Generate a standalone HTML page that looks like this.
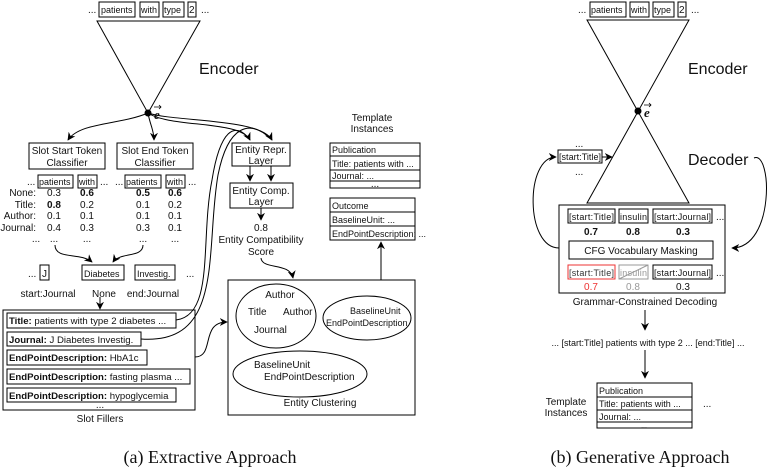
<!DOCTYPE html>
<html><head><meta charset="utf-8"><style>
body{margin:0;background:#fff}
svg{display:block}
text{font-family:"Liberation Sans",sans-serif;font-size:10px;fill:#111}
.t{font-size:9px}
.f{font-size:9.6px}
.b{font-weight:bold}
.s{font-family:"Liberation Serif",serif;font-size:18px}
</style></head><body>
<svg width="778" height="471" viewBox="0 0 778 471" xmlns="http://www.w3.org/2000/svg">
<defs><marker id="a" viewBox="0 0 10 10" refX="9" refY="5" markerWidth="8" markerHeight="8" orient="auto"><path d="M0,0L10,5L0,10L3,5z" fill="#000"/></marker></defs>
<g fill="none" stroke="#000" stroke-width="1">
<rect x="99" y="2" width="36" height="15"/><rect x="140" y="2" width="19" height="15"/><rect x="163" y="2" width="21" height="15"/><rect x="188" y="2" width="8" height="15"/>
<polygon points="97,21 200,21 148,113"/>
<path d="M148,113 C120,125 80,122 68,140" marker-end="url(#a)"/>
<path d="M148,113 C150,125 154,130 154,140" marker-end="url(#a)"/>
<path d="M148,113 C170,128 240,120 250,140" marker-end="url(#a)"/>
<path d="M148,113 C175,122 260,118 272,140" marker-end="url(#a)"/>
<rect x="29" y="143" width="76" height="26"/><rect x="117" y="143" width="76" height="26"/>
<rect x="38" y="175" width="35" height="13"/><rect x="78" y="175" width="19" height="13"/>
<rect x="125" y="175" width="36" height="13"/><rect x="166" y="175" width="19" height="13"/>
<path d="M55,245 C55,260 80,252 92,262" marker-end="url(#a)"/>
<path d="M143,245 C143,258 120,252 113,262" marker-end="url(#a)"/>
<rect x="40" y="265" width="9" height="15"/><rect x="82" y="265" width="42" height="15"/><rect x="135" y="265" width="40" height="15"/>
<path d="M100,297 L100,309" marker-end="url(#a)"/>
<rect x="3" y="310" width="192" height="100"/>
<rect x="7" y="313" width="169" height="15"/><rect x="7" y="332" width="134" height="14"/><rect x="7" y="350" width="140" height="15"/><rect x="7" y="369" width="183" height="15"/><rect x="7" y="388" width="169" height="14"/>
<path d="M176,320 C215,315 200,240 212,180 C220,130 235,120 250,140"/>
<path d="M141,339 C225,345 205,250 218,175 C228,125 250,118 272,140"/>
<rect x="232" y="143" width="58" height="23"/><rect x="230" y="183" width="63" height="25"/>
<path d="M250,166 L250,181" marker-end="url(#a)"/><path d="M271,166 L271,181" marker-end="url(#a)"/>
<path d="M261,208 L261,220" marker-end="url(#a)"/>
<path d="M261,258 C262,270 290,262 293,278" marker-end="url(#a)"/>
<path d="M195,357 C215,357 200,322 227,322" marker-end="url(#a)"/>
<rect x="228" y="280" width="187" height="135"/>
<ellipse cx="276" cy="316" rx="40" ry="32"/><ellipse cx="367" cy="318" rx="44" ry="22"/><ellipse cx="300" cy="374" rx="67" ry="23"/>
<path d="M381,280 L381,242" marker-end="url(#a)"/>
<rect x="330" y="143" width="90" height="45"/><path d="M330,156H420M330,170H420M330,181H420"/>
<rect x="330" y="198" width="85" height="42"/><path d="M330,212H415M330,226H415"/>
<path d="M154,107 L161,107 M159,105 L161,107 L159,109" stroke-width="0.8"/>
<path d="M644,105 L651,105 M649,103 L651,105 L649,107" stroke-width="0.8"/>

<rect x="590" y="2" width="36" height="15"/><rect x="630" y="2" width="19" height="15"/><rect x="653" y="2" width="21" height="15"/><rect x="678" y="2" width="8" height="15"/>
<path d="M587,20 L689,20 L587,203 L689,203 Z"/>
<rect x="558" y="150" width="44" height="13"/>
<path d="M602,157 L612,157" marker-end="url(#a)"/>
<rect x="559" y="205" width="166" height="88"/>
<rect x="568" y="209" width="47" height="14"/><rect x="619" y="209" width="29" height="14"/><rect x="653" y="209" width="59" height="14"/>
<rect x="569" y="241" width="144" height="18"/>
<rect x="568" y="265" width="47" height="14" stroke="#e33"/><rect x="619" y="265" width="29" height="14" stroke="#999"/><path d="M619,279 L648,265" stroke="#999"/><rect x="653" y="265" width="59" height="14"/>
<path d="M559,248 C525,248 525,157 556,157" marker-end="url(#a)"/>
<path d="M754,158 C772,150 775,248 732,248" marker-end="url(#a)"/>
<path d="M645,310 L645,330" marker-end="url(#a)"/>
<path d="M645,350 L645,378" marker-end="url(#a)"/>
<rect x="597" y="383" width="95" height="45"/><path d="M597,397H692M597,410H692M597,422H692"/>
</g>
<circle cx="148" cy="113" r="3.5"/><circle cx="638" cy="111" r="3.5"/>
<text x="88" y="13">...</text><text x="101" y="13" class="t">patients</text><text x="141" y="13" class="t">with</text><text x="164" y="13" class="t">type</text><text x="189" y="13">2</text><text x="201" y="13">...</text>
<text x="199" y="74" style="font-size:16px">Encoder</text>
<text x="154" y="119" style="font-family:'Liberation Serif',serif;font-style:italic;font-weight:bold;font-size:13px">e</text>
<text x="67" y="154" text-anchor="middle">Slot Start Token</text><text x="67" y="166" text-anchor="middle">Classifier</text>
<text x="155" y="154" text-anchor="middle">Slot End Token</text><text x="155" y="166" text-anchor="middle">Classifier</text>
<text x="27" y="185">...</text><text x="39" y="185" class="t">patients</text><text x="79" y="185" class="t">with</text><text x="100" y="185">...</text>
<text x="115" y="185">...</text><text x="126" y="185" class="t">patients</text><text x="167" y="185" class="t">with</text><text x="188" y="185">...</text>
<g text-anchor="end"><text x="36" y="196">None:</text><text x="36" y="208">Title:</text><text x="36" y="219">Author:</text><text x="36" y="231">Journal:</text></g>
<g text-anchor="middle">
<text x="54" y="196">0.3</text><text x="87" y="196" class="b">0.6</text><text x="143" y="196" class="b">0.5</text><text x="175" y="196" class="b">0.6</text>
<text x="54" y="208" class="b">0.8</text><text x="87" y="208">0.2</text><text x="143" y="208">0.1</text><text x="175" y="208">0.2</text>
<text x="54" y="219">0.1</text><text x="87" y="219">0.1</text><text x="143" y="219">0.1</text><text x="175" y="219">0.1</text>
<text x="54" y="231">0.4</text><text x="87" y="231">0.3</text><text x="143" y="231">0.3</text><text x="175" y="231">0.1</text>
<text x="36" y="242">...</text><text x="54" y="242">...</text><text x="87" y="242">...</text><text x="143" y="242">...</text><text x="175" y="242">...</text>
<text x="48" y="297">start:Journal</text><text x="104" y="297">None</text><text x="153" y="297">end:Journal</text>
<text x="100" y="408">...</text><text x="100" y="422">Slot Fillers</text>
<text x="261" y="153">Entity Repr.</text><text x="261" y="164">Layer</text>
<text x="261" y="194">Entity Comp.</text><text x="261" y="205">Layer</text>
<text x="261" y="231">0.8</text><text x="261" y="243">Entity Compatibility</text><text x="261" y="255">Score</text>
<text x="372" y="121">Template</text><text x="372" y="132">Instances</text>
<text x="375" y="187">...</text>
<text x="280" y="298">Author</text><text x="320" y="406">Entity Clustering</text>
</g>
<text x="28" y="277">...</text><text x="42" y="277">J</text><text x="84" y="277" class="t">Diabetes</text><text x="137" y="277" class="t">Investig.</text><text x="186" y="277">...</text>
<text x="9" y="324" class="f"><tspan class="b">Title:</tspan> patients with type 2 diabetes ...</text>
<text x="9" y="343" class="f"><tspan class="b">Journal:</tspan> J Diabetes Investig.</text>
<text x="9" y="361" class="f"><tspan class="b">EndPointDescription:</tspan> HbA1c</text>
<text x="9" y="380" class="f"><tspan class="b">EndPointDescription:</tspan> fasting plasma ...</text>
<text x="9" y="399" class="f"><tspan class="b">EndPointDescription:</tspan> hypoglycemia</text>
<text x="332" y="153" class="t">Publication</text><text x="332" y="167" class="t">Title: patients with ...</text><text x="332" y="179" class="t">Journal: ...</text>
<text x="332" y="209" class="t">Outcome</text><text x="332" y="223" class="t">BaselineUnit: ...</text><text x="332" y="237" class="t">EndPointDescription: ...</text>
<text x="248" y="315">Title</text><text x="283" y="315">Author</text><text x="254" y="333">Journal</text>
<text x="350" y="314" class="t">BaselineUnit</text><text x="326" y="326" class="t">EndPointDescription</text>
<text x="254" y="368">BaselineUnit</text><text x="264" y="380">EndPointDescription</text>
<text x="210" y="463" text-anchor="middle" class="s">(a) Extractive Approach</text>
<text x="578" y="13">...</text><text x="591" y="13" class="t">patients</text><text x="631" y="13" class="t">with</text><text x="654" y="13" class="t">type</text><text x="679" y="13">2</text><text x="691" y="13">...</text>
<text x="688" y="74" style="font-size:16px">Encoder</text>
<text x="688" y="165" style="font-size:16px">Decoder</text>
<text x="644" y="117" style="font-family:'Liberation Serif',serif;font-style:italic;font-weight:bold;font-size:13px">e</text>
<text x="575" y="147">...</text><text x="559" y="160" class="t" textLength="42">[start:Title]</text><text x="575" y="175">...</text>
<text x="569" y="220" class="t" textLength="45">[start:Title]</text><text x="620" y="220" class="t" textLength="27">insulin</text><text x="654" y="220" class="t" textLength="57">[start:Journal]</text><text x="716" y="220">...</text>
<text x="569" y="276" class="t" textLength="45" style="fill:#333">[start:Title]</text><text x="620" y="276" class="t" textLength="27" style="fill:#999">insulin</text><text x="654" y="276" class="t" textLength="57">[start:Journal]</text><text x="716" y="276">...</text>
<g text-anchor="middle">
<text x="591" y="235" class="b">0.7</text><text x="633" y="235" class="b">0.8</text><text x="683" y="235" class="b">0.3</text>
<text x="641" y="254">CFG Vocabulary Masking</text>
<text x="591" y="290" style="fill:#e33">0.7</text><text x="633" y="290" style="fill:#999">0.8</text><text x="683" y="290">0.3</text>
<text x="645" y="305">Grammar-Constrained Decoding</text>
<text x="648" y="346" class="t">... [start:Title] patients  with  type  2 ... [end:Title] ...</text>
<text x="566" y="405">Template</text><text x="566" y="416">Instances</text>
<text x="644" y="428" style="font-size:7px">...</text>
<text x="640" y="463" class="s">(b) Generative Approach</text>
</g>
<text x="599" y="394" class="t">Publication</text><text x="599" y="407" class="t">Title: patients with ...</text><text x="599" y="420" class="t">Journal: ...</text>
<text x="703" y="407">...</text>
</svg>
</body></html>
